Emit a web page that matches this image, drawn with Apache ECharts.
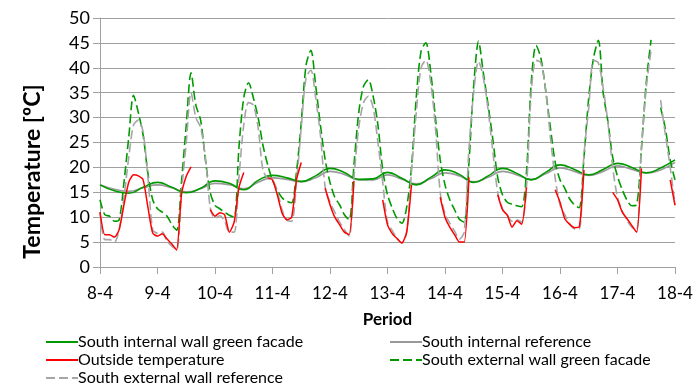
<!doctype html>
<html>
<head>
<meta charset="utf-8">
<title>South wall temperatures</title>
<script src="https://cdn.jsdelivr.net/npm/echarts@6/dist/echarts.min.js"></script>
<style>
  html, body { margin: 0; padding: 0; background: #fff; }
  #main { width: 697px; height: 392px; }
</style>
</head>
<body>
<div id="main"></div>
<script>
// day labels on the x axis (day 0 = 8 April)
var dayLabels = ['8-4', '9-4', '10-4', '11-4', '12-4', '13-4', '14-4', '15-4', '16-4', '17-4', '18-4'];

// internal walls, one reading every 6 hours
var internalStep = 1 / 4;
var southInternalGreen = [
    16.5, 15.3, 14.8, 16.0, 17.0, 16.0, 14.9, 15.8, 17.3, 16.8, 15.5, 17.4,
    18.4, 17.9, 17.2, 18.3, 19.8, 19.0, 17.6, 17.7, 19.0, 17.8, 16.5, 18.0,
    19.5, 18.6, 17.0, 18.3, 19.8, 18.8, 17.5, 19.0, 20.5, 19.6, 18.5, 19.6,
    20.8, 20.0, 18.9, 19.9, 21.5
];
var southInternalRef = [
    16.5, 15.6, 15.2, 15.9, 16.5, 15.9, 15.1, 15.7, 16.8, 16.5, 15.7, 17.0,
    17.9, 17.6, 17.1, 17.9, 19.2, 18.6, 17.5, 17.5, 18.5, 17.6, 16.7, 17.7,
    18.9, 18.3, 17.1, 18.0, 19.2, 18.5, 17.6, 18.7, 19.9, 19.2, 18.4, 19.2,
    20.3, 19.6, 18.9, 19.5, 21.0
];

// external walls and outside air, one reading every 2 hours (null = no data)
var externalStep = 1 / 12;
var outsideTemp = [
    11, 6.5, 6.5, 6, 7.5, 12.5, 17, 18.5, 18.3, 17.5, 12, 6.8,
    6.2, 6.7, 5.6, 4.6, 3.4, 14.5, 18.2, 20.1, null, null, null, 11.5,
    10.2, 10.9, 10.5, 7, 9, 16, 19, null, null, null, null, 17.9,
    17.5, 14.5, 10.8, 9.5, 10, 17.5, 21, null, null, null, null, 15.8,
    12.5, 10, 8.5, 7, 6.5, 17.3, null, null, null, null, null, 13.5,
    8.5, 6.7, 5.7, 4.8, 7, 16.5, null, null, null, null, null, 14,
    10, 8, 6.5, 5, 5, 18, null, null, null, null, null, 14.5,
    11.5, 10.4, 8, 9.3, 8.6, 16, null, null, null, null, null, 15.5,
    13, 9.7, 8.6, 7.9, 8, 19.5, null, null, null, null, null, 15,
    13.5, 11, 9.7, 8.3, 7, 19.8, null, null, null, null, null, 17.5,
    12.4
];
var southExternalGreen = [
    13.5, 10.5, 10.2, 9.2, 9.5, 17, 26, 34.5, 31, 26.5, 18.8, 13.5,
    11.7, 11, 10.2, 8.5, 7.4, 17, 28.5, 39, 32.5, 29.5, 21.5, 15,
    12.4, 11.7, 11, 10.4, 10, 24, 34, 37, 34, 30, 24.5, 20.5,
    17.4, 15.4, 13.9, 13.2, 12.9, 19, 29, 40.5, 43.5, 36.5, 28.5, 21.5,
    17, 14, 12.5, 10.5, 9.5, 20.5, 31, 36.3, 37.6, 34.3, 28.5, 19.5,
    14.5, 11.8, 9.7, 8.8, 12, 20, 34, 43.3, 45, 39.3, 30, 21.5,
    16.5, 13.5, 11.5, 9.6, 9, 21, 36.6, 45.3, 39, 32.5, 25.5, 18,
    14.5, 13, 12.6, 12.3, 12.1, 19, 37, 44.5, 42, 35.5, 28, 21,
    17.5, 15.8, 13.7, 12.5, 11.9, 22, 34, 42, 45.5, 35, 29.2, 22,
    18.2, 15.5, 13.4, 12.3, 12.5, 23.8, 37, 45.6, null, 32, 27.7, 21.5,
    17.5
];
var southExternalRef = [
    11, 5.5, 5.5, 5, 7.5, 14, 22, 28.5, 29.5, 27, 18, 7.5,
    6.8, 7, 5.2, 4.2, 3.5, 15, 25, 35, 30, 28, 22, 12,
    9.8, 10.3, 9.2, 7, 7, 18, 28.5, 33, 32.5, 28, 19.5, 17.8,
    17.5, 15.2, 11.5, 9.4, 9.2, 17, 28, 38, 39.5, 34, 26.5, 16,
    13, 11, 9, 7.5, 6.2, 18, 28, 33, 34.3, 32, 25, 17,
    9, 7.3, 5.7, 4.8, 7, 19, 31, 40, 41.5, 37.2, 28, 15,
    10.7, 8.8, 7.2, 5.6, 7, 23.8, 35.2, 41.3, 38, 31.5, 23, 15,
    11.7, 10.4, 9.2, 9.5, 9, 16, 35, 41.5, 41, 35.5, 26, 17.8,
    12.5, 10.5, 8.6, 7.7, 7.6, 22.5, 32, 41.5, 41, 36, 29, 20,
    14, 11.3, 9.3, 8, 7.5, 24, 36, 43.5, null, 33.5, 26.5, 20,
    12.5
];

function toPoints(values, step) {
    return values.map(function (v, i) { return [i * step, v]; });
}

var font = 'Lato, "Liberation Sans", sans-serif';
var green = '#009a00';
var gray = '#a6a6a6';

var chart = echarts.init(document.getElementById('main'), null, { renderer: 'canvas' });

var legendText = { fontSize: 16, fontFamily: font, color: '#000', padding: [0, 0, 0, -5] };

var option = {
    animation: false,
    textStyle: { fontFamily: font, color: '#000' },
    grid: { left: 100, right: 22, top: 18, bottom: 125 },
    legend: [
        {
            orient: 'vertical', left: 40, top: 329, itemGap: 2,
            itemWidth: 32, itemHeight: 14,
            itemStyle: { opacity: 0 },
            textStyle: legendText,
            data: ['South internal wall green facade', 'Outside temperature', 'South external wall reference']
        },
        {
            orient: 'vertical', left: 384, top: 329, itemGap: 2,
            itemWidth: 32, itemHeight: 14,
            itemStyle: { opacity: 0 },
            textStyle: legendText,
            data: ['South internal reference', 'South external wall green facade']
        }
    ],
    xAxis: {
        type: 'value', min: 0, max: 10, interval: 1,
        name: 'Period', nameLocation: 'middle', nameGap: 44,
        nameTextStyle: { fontSize: 17, fontWeight: 'bold', fontFamily: font, color: '#000' },
        axisLine: { lineStyle: { color: '#a0a0a0', width: 1 } },
        axisTick: { show: true, length: 7, lineStyle: { color: '#a0a0a0' } },
        axisLabel: {
            fontSize: 17, color: '#000', margin: 18,
            formatter: function (v) { return dayLabels[Math.round(v)]; }
        },
        splitLine: { show: false }
    },
    yAxis: {
        type: 'value', min: 0, max: 50, interval: 5,
        name: 'Temperature [ºC]', nameLocation: 'middle', nameGap: 56,
        nameTextStyle: { fontSize: 23, fontWeight: 'bold', fontFamily: font, color: '#000', padding: [0, 58, 0, 0] },
        axisLine: { show: true, lineStyle: { color: '#a0a0a0', width: 1 } },
        axisTick: { show: true, length: 7, lineStyle: { color: '#a0a0a0' } },
        axisLabel: { fontSize: 18, color: '#000', margin: 10 },
        splitLine: { lineStyle: { color: '#a0a0a0', width: 1 } }
    },
    series: [
        {
            name: 'South internal wall green facade', type: 'line', symbol: 'none', smooth: 0.5, z: 3,
            color: green, lineStyle: { color: green, width: 1.6 },
            data: toPoints(southInternalGreen, internalStep)
        },
        {
            name: 'South internal reference', type: 'line', symbol: 'none', smooth: 0.5, z: 2,
            color: '#999', lineStyle: { color: '#999', width: 1.6 },
            data: toPoints(southInternalRef, internalStep)
        },
        {
            name: 'Outside temperature', type: 'line', symbol: 'none', smooth: 0.2, z: 6,
            color: '#ff0000', lineStyle: { color: '#ff0000', width: 1.5 },
            data: toPoints(outsideTemp, externalStep)
        },
        {
            name: 'South external wall green facade', type: 'line', symbol: 'none', smooth: 0.3, z: 4,
            color: green, lineStyle: { color: green, width: 1.6, type: [9, 4] },
            data: toPoints(southExternalGreen, externalStep)
        },
        {
            name: 'South external wall reference', type: 'line', symbol: 'none', smooth: 0.3, z: 5,
            color: gray, lineStyle: { color: gray, width: 1.6, type: [9, 4] },
            data: toPoints(southExternalRef, externalStep)
        }
    ]
};

chart.setOption(option);
</script>
</body>
</html>
